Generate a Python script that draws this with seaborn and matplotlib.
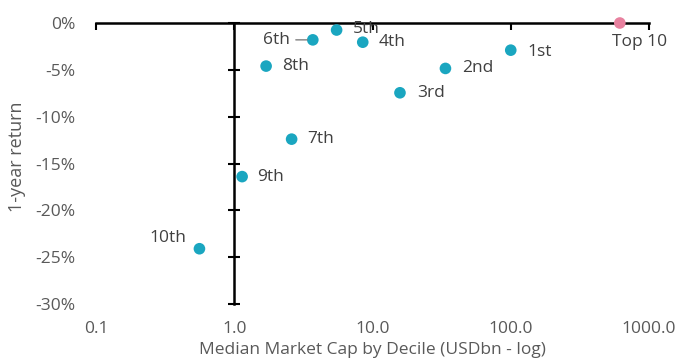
import matplotlib
matplotlib.use("Agg")
import matplotlib.pyplot as plt
import seaborn as sns
import pandas as pd
import numpy as np

labels = ["Top 10", "1st", "2nd", "3rd", "4th", "5th", "6th", "7th", "8th", "9th", "10th"]
market_cap = [615, 100, 33.7, 15.8, 8.5, 5.5, 3.7, 2.6, 1.7, 1.14, 0.56]
returns = [0.0, -2.9, -4.85, -7.45, -2.05, -0.75, -1.8, -12.4, -4.6, -16.4, -24.1]
groups = ["Top 10"] + ["Decile"] * 10
x_ticks = [0.1, 1, 10, 100, 1000]
x_tick_labels = ["0.1", "1.0", "10.0", "100.0", "1000.0"]
y_ticks = [0, -5, -10, -15, -20, -25, -30]
y_tick_labels = ["0%", "-5%", "-10%", "-15%", "-20%", "-25%", "-30%"]

df = pd.DataFrame({"label": labels, "cap": market_cap, "ret": returns, "group": groups})

sns.set_style("white")
plt.rcParams["font.family"] = ["Open Sans", "DejaVu Sans"]

FS = 12.5
fig = plt.figure(figsize=(6.78, 3.6), dpi=100)
ax = fig.add_axes([96 / 678, 1 - 304 / 360, (649 - 96) / 678, (304 - 23) / 360])

palette = {"Decile": "#1AA6C0", "Top 10": "#E8819F"}
sns.scatterplot(data=df, x="cap", y="ret", hue="group", palette=palette, s=70,
                edgecolor="none", legend=False, ax=ax, zorder=3, clip_on=False)

ax.set_xscale("log")
ax.set_xlim(0.1, 1000)
ax.set_ylim(-30, 0)

ax.set_xticks(x_ticks)
ax.set_xticklabels(x_tick_labels)
ax.xaxis.set_minor_locator(matplotlib.ticker.NullLocator())
ax.set_yticks(y_ticks)
ax.set_yticklabels(y_tick_labels)

for s in ["bottom", "left"]:
    ax.spines[s].set_visible(False)
ax.spines["top"].set_visible(True)
ax.spines["top"].set_color("black")
ax.spines["top"].set_linewidth(1.8)
ax.spines["right"].set_visible(True)
ax.spines["right"].set_position(("data", 1.0))
ax.spines["right"].set_color("black")
ax.spines["right"].set_linewidth(1.8)

ax.tick_params(axis="x", which="major", top=True, bottom=False, labeltop=False,
               labelbottom=True, direction="in", length=5, width=1.5, color="black",
               labelsize=FS, labelcolor="#595959", pad=12)
ax.tick_params(axis="y", which="major", left=False, right=True, labelleft=True,
               labelright=False, direction="inout", length=9, width=1.5, color="black",
               labelsize=FS, labelcolor="#595959", pad=10)

ax.set_xlabel("Median Market Cap by Decile (USDbn - log)", fontsize=FS, color="#595959", labelpad=4)
ax.set_ylabel("1-year return", fontsize=FS + 0.5, color="#595959")
ax.yaxis.set_label_coords(-0.126, 0.523)

offsets = {
    "Top 10": (20, -19, "center"),
    "1st": (17, -2, "left"),
    "2nd": (17, 0, "left"),
    "3rd": (17, 0, "left"),
    "4th": (16, 0, "left"),
    "5th": (16, 1, "left"),
    "6th": (-23, 0, "right"),
    "7th": (16, 0, "left"),
    "8th": (16, 0, "left"),
    "9th": (15, 0, "left"),
    "10th": (-13, 11, "right"),
}
for lab, xv, yv in zip(labels, market_cap, returns):
    dx, dy, ha = offsets[lab]
    ax.annotate(lab, (xv, yv), xytext=(dx, dy), textcoords="offset pixels",
                ha=ha, va="center", fontsize=FS, color="#404040", zorder=4)
    if lab == "6th":
        ax.annotate("", (xv, yv), xytext=(-17, 0), textcoords="offset pixels",
                    arrowprops=dict(arrowstyle="-", color="#7f7f7f", lw=1,
                                    shrinkA=0, shrinkB=4))

fig.savefig("out.png", dpi=100)
